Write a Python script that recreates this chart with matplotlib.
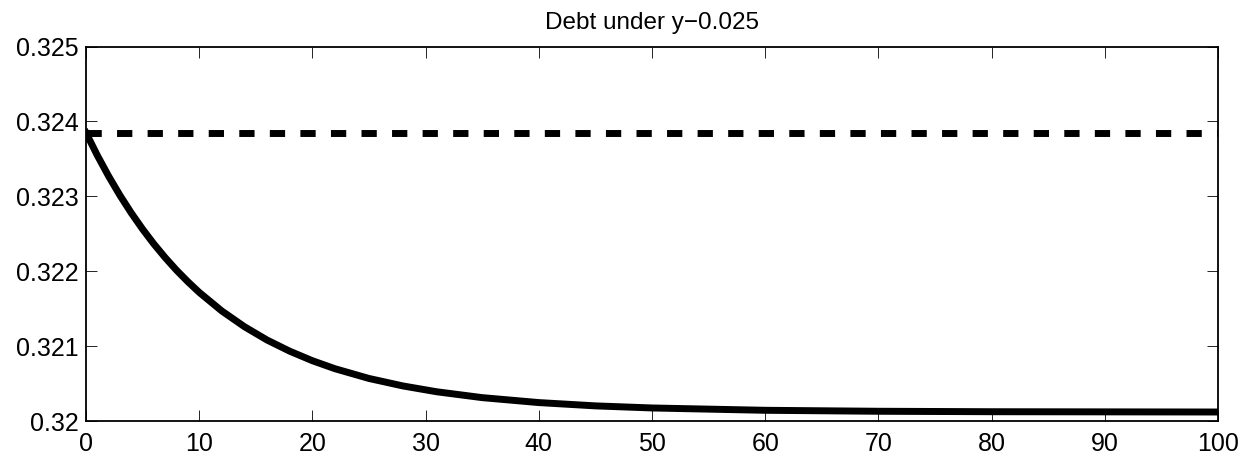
import matplotlib
matplotlib.use("Agg")
import matplotlib.pyplot as plt

# Data
x_vals = [0, 1, 2, 3, 4, 5, 6, 7, 8, 9, 10, 12, 14, 16, 18, 20, 22, 25, 28, 31,
          35, 40, 45, 50, 60, 70, 80, 90, 100]
debt = [0.32385, 0.323547, 0.323269, 0.323013, 0.322778, 0.322562, 0.322363,
        0.322181, 0.322013, 0.32186, 0.321718, 0.321469, 0.321259, 0.321081,
        0.320932, 0.320805, 0.320698, 0.320568, 0.320468, 0.320390, 0.320312,
        0.320246, 0.320202, 0.320174, 0.320143, 0.320130, 0.320124, 0.320122,
        0.320120]
steady_x = [0, 100]
steady = [0.32385, 0.32385]
title = "Debt under y\u22120.025"
xticks = [0, 10, 20, 30, 40, 50, 60, 70, 80, 90, 100]
yticks = [0.320, 0.321, 0.322, 0.323, 0.324, 0.325]
ytick_labels = ["0.32", "0.321", "0.322", "0.323", "0.324", "0.325"]

plt.rcParams['font.family'] = ['Liberation Sans', 'DejaVu Sans']

fig = plt.figure(figsize=(12.45, 4.59), dpi=100)
ax = fig.add_axes([86/1245, 38/459, (1218-86)/1245, (421-46.6)/459])

ax.plot(steady_x, steady, color='black', linewidth=5, dashes=(2.2, 2.2),
        solid_capstyle='butt', dash_capstyle='butt')
ax.plot(x_vals, debt, color='black', linewidth=5, solid_joinstyle='round')

ax.set_xlim(0, 100)
ax.set_ylim(0.320, 0.325)
ax.set_xticks(xticks)
ax.set_xticklabels([str(t) for t in xticks])
ax.set_yticks(yticks)
ax.set_yticklabels(ytick_labels)
ax.tick_params(direction='in', length=8, width=0.6, top=True, right=True,
               labelsize=18, pad=5, colors='black')
ax.tick_params(axis='x', pad=8)
for s in ax.spines.values():
    s.set_linewidth(1.3)
ax.set_title(title, fontsize=17.5, pad=13)

fig.savefig("out.png", dpi=100)
